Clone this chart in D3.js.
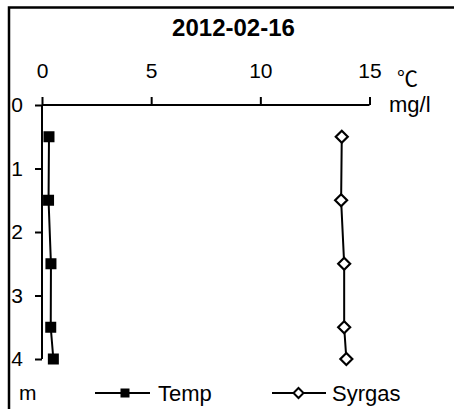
<!DOCTYPE html>
<html><head><meta charset="utf-8">
<script src="https://cdn.jsdelivr.net/npm/d3@7"></script>
<style>body{margin:0;background:#fff;}svg{display:block;font-family:"Liberation Sans",Arial,sans-serif;}</style>
</head><body>
<svg id="c" width="454" height="409"></svg>
<script>
const depths = [0.5, 1.5, 2.5, 3.5, 4.0];
const temp = [0.32, 0.30, 0.41, 0.40, 0.52];
const syrgas = [13.73, 13.70, 13.84, 13.84, 13.94];
const xTicks = [0, 5, 10, 15];
const yTicks = [0, 1, 2, 3, 4];
const title = "2012-02-16";
const FONT = "Liberation Sans, Arial, sans-serif";

const svg = d3.select("#c");
const x = d3.scaleLinear().domain([0, 15]).range([42, 369.5]);
const y = d3.scaleLinear().domain([0, 4]).range([105, 359]);

// frame
svg.append("path").attr("d", "M9,420 L9,7.5 L460,7.5").attr("fill", "none").attr("stroke", "#000").attr("stroke-width", 2.5);

svg.append("text").attr("x", 233.5).attr("y", 36).attr("text-anchor", "middle")
  .attr("font-size", 24).attr("font-weight", "bold").text(title);

// x axis (top)
const xa = svg.append("g").attr("transform", `translate(0,${y(0)})`)
  .call(d3.axisTop(x).tickValues(xTicks).tickSize(8).tickPadding(19).tickFormat(d3.format("d")));
xa.select(".domain").attr("d", `M${x(0)},0H${x(15)}`).attr("stroke-width", 2);
xa.selectAll(".tick line").attr("stroke-width", 2);
xa.selectAll("text").attr("font-size", 21).attr("font-family", FONT).attr("fill", "#000");

// y axis
const ya = svg.append("g").attr("transform", `translate(${x(0)},0)`)
  .call(d3.axisLeft(y).tickValues(yTicks).tickSize(7).tickPadding(12).tickFormat(d3.format("d")));
ya.select(".domain").attr("d", `M0,${y(0)}V${y(4)}`).attr("stroke-width", 2);
ya.selectAll(".tick line").attr("stroke-width", 2);
ya.selectAll("text").attr("font-size", 21).attr("font-family", FONT).attr("fill", "#000").attr("text-anchor", "end");

svg.append("text").attr("x", 397).attr("y", 86).attr("font-size", 21)
  .attr("font-family", "Noto Sans CJK SC, sans-serif").text("℃");
svg.append("text").attr("x", 389).attr("y", 112).attr("font-size", 22).text("mg/l");
svg.append("text").attr("x", 19).attr("y", 400).attr("font-size", 21).text("m");

const line = vals => d3.line().x(d => x(d)).y((d, i) => y(depths[i]))(vals);

svg.append("path").attr("d", line(temp)).attr("fill", "none").attr("stroke", "#000").attr("stroke-width", 2);
svg.append("path").attr("d", line(syrgas)).attr("fill", "none").attr("stroke", "#000").attr("stroke-width", 2);

svg.selectAll(".sq").data(temp).join("rect")
  .attr("x", d => x(d) - 5.5).attr("y", (d, i) => y(depths[i]) - 5.5)
  .attr("width", 11).attr("height", 11).attr("fill", "#000");

svg.selectAll(".dm").data(syrgas).join("path")
  .attr("d", "M0,-6L6,0L0,6L-6,0Z")
  .attr("transform", (d, i) => `translate(${x(d)},${y(depths[i])})`)
  .attr("fill", "#fff").attr("stroke", "#000").attr("stroke-width", 2.2);

// legend
const ly = 393;
svg.append("line").attr("x1", 95).attr("x2", 150).attr("y1", ly).attr("y2", ly).attr("stroke", "#000").attr("stroke-width", 2);
svg.append("rect").attr("x", 125 - 4.5).attr("y", ly - 4.5).attr("width", 9).attr("height", 9).attr("fill", "#000");
svg.append("text").attr("x", 158).attr("y", 401).attr("font-size", 22).text("Temp");
svg.append("line").attr("x1", 272).attr("x2", 326).attr("y1", ly).attr("y2", ly).attr("stroke", "#000").attr("stroke-width", 2);
svg.append("path").attr("d", "M0,-5L5,0L0,5L-5,0Z").attr("transform", `translate(298.5,${ly})`)
  .attr("fill", "#fff").attr("stroke", "#000").attr("stroke-width", 2);
svg.append("text").attr("x", 332).attr("y", 401).attr("font-size", 22).text("Syrgas");
</script>
</body></html>
